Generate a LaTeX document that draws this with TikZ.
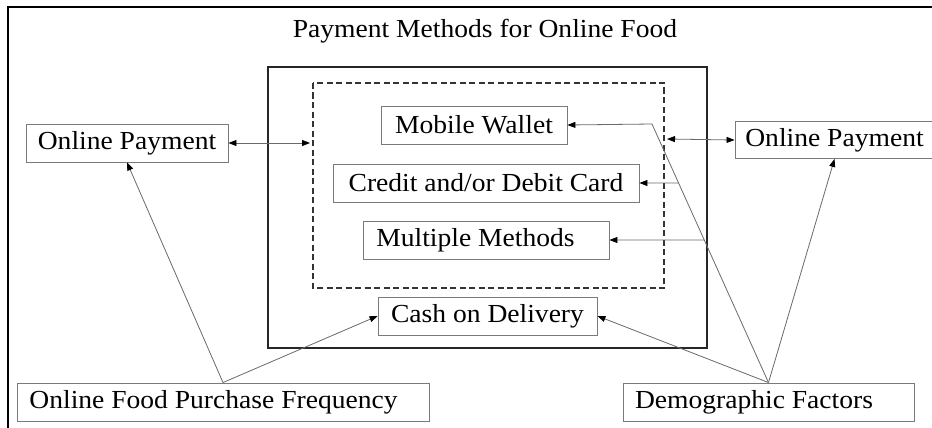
\documentclass[tikz,border=0pt]{standalone}
\usepackage{fontspec}
\setmainfont{Liberation Serif}[FakeStretch=1.06]
\usetikzlibrary{arrows.meta}
\definecolor{boxgray}{HTML}{7A7A7A}
\definecolor{linegray}{HTML}{6A6A6A}
\begin{document}
\begin{tikzpicture}[x=1pt,y=-1pt,
  every node/.style={font=\fontsize{26}{30}\selectfont},
  box/.style={draw=boxgray,line width=0.9pt,minimum height=38pt,inner sep=0pt,fill=white},
  conn/.style={draw=linegray,line width=0.8pt},
  arr/.style={conn,-{Triangle[length=8pt,width=6pt,color=black]}},
  darr/.style={conn,{Triangle[length=8pt,width=6pt,color=black]}-{Triangle[length=8pt,width=6pt,color=black]}}]
\useasboundingbox (0,0) rectangle (932,428);
\fill[white] (0,0) rectangle (932,428);
% outer frame (only top and left visible)
\draw[line width=1.5pt,black] (8,440) -- (8,7) -- (945,7);
% title
\node[anchor=base,inner sep=0pt] (title) at (485,38) {Payment Methods for Online Food};
% solid and dashed boxes
\draw[line width=1.5pt,draw=black!85] (268,67) rectangle (707,348);
\draw[line width=1.2pt,draw=black!80,dash pattern=on 6pt off 3.5pt] (313,83) rectangle (664,288);
% method boxes
\node[box,minimum width=186pt] (mw) at (474,125) {Mobile Wallet};
\node[box,minimum width=306pt] (cd) at (486,183) {Credit and/or Debit Card};
\node[box,minimum width=246pt] (mm) at (486,240) {\hspace*{-21pt}Multiple Methods};
\node[box,minimum width=219pt] (cash) at (487.5,316) {Cash on Delivery};
% side boxes
\node[box,minimum width=202pt] (lop) at (127,143) {Online Payment};
\node[box,minimum width=199pt,minimum height=37pt] (rop) at (834.5,140) {Online Payment};
\node[box,minimum width=412pt] (freq) at (223,402) {\hspace*{-19pt}Online Food Purchase Frequency};
\node[box,minimum width=291pt] (demo) at (768.5,402) {\hspace*{-29pt}Demographic Factors};
% helper coordinates
\coordinate (dl) at (310,143);
\coordinate (dr) at (667,139);
\coordinate (k) at (652,124);
\coordinate (cdr) at ([xshift=150pt]cd.east);
\coordinate (mmr) at ([xshift=150pt]mm.east);
% connectors
\draw[darr] (lop.east) -- (dl);
\draw[darr] (dr) -- (rop.west);
\draw[arr] (freq.north) -- (lop.south);
\draw[arr] (freq.north) -- (cash.west);
\draw[arr] (demo.north) -- (cash.east);
\draw[arr] (demo.north) -- (rop.south);
\draw[conn] (demo.north) -- (k);
\draw[arr] (k) -- (mw.east);
\draw[arr] (intersection of k--demo.north and cd.east--cdr) -- (cd.east);
\draw[arr] (intersection of k--demo.north and mm.east--mmr) -- (mm.east);
\end{tikzpicture}
\end{document}
